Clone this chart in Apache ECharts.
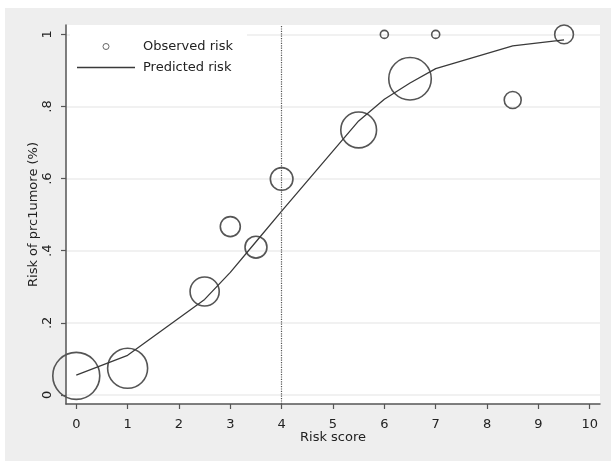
<!DOCTYPE html>
<html>
<head>
<meta charset="utf-8">
<script src="https://cdn.jsdelivr.net/npm/echarts@6/dist/echarts.min.js"></script>
<style>html,body{margin:0;padding:0;background:#fff}#c{width:611px;height:464px}</style>
</head>
<body>
<div id="c"></div>
<script>
const riskScore = [0, 1, 2.5, 3, 3.5, 4, 5.5, 6, 6.5, 7, 8.5, 9.5];
const observedRisk = [0.053, 0.074, 0.287, 0.467, 0.41, 0.599, 0.735, 1.0, 0.877, 1.0, 0.818, 1.0];
const predictedRisk = [0.055, 0.11, 0.265, 0.34, 0.425, 0.51, 0.76, 0.82, 0.865, 0.905, 0.968, 0.985];
const observedCount = [138, 100, 53, 25, 30, 32, 80, 4, 113, 4, 18, 22];
const xTicks = [0, 1, 2, 3, 4, 5, 6, 7, 8, 9, 10];
const yTicks = [0, 0.2, 0.4, 0.6, 0.8, 1];
const yTickLabels = ['0', '.2', '.4', '.6', '.8', '1'];
const cutoffScore = 4;

const FONT = 'DejaVu Sans';
const chart = echarts.init(document.getElementById('c'), null, {renderer: 'canvas'});
const obsData = riskScore.map((x, i) => [x, observedRisk[i], observedCount[i]]);
const predData = riskScore.map((x, i) => [x, predictedRisk[i]]);

chart.setOption({
  backgroundColor: '#ffffff',
  animation: false,
  graphic: [
    {type: 'rect', shape: {x: 5, y: 8, width: 606, height: 453}, style: {fill: '#eeeeee'}, z: -10, silent: true},
    {type: 'rect', shape: {x: 70, y: 28, width: 177, height: 52}, style: {fill: '#ffffff'}, z: 1, silent: true}
  ],
  grid: {left: 66, right: 11, top: 25, bottom: 60, show: true, backgroundColor: '#ffffff', borderWidth: 0},
  legend: {
    orient: 'vertical', left: 72, top: 35,
    itemWidth: 58, itemHeight: 6, itemGap: 8,
    textStyle: {fontFamily: FONT, fontSize: 13, color: '#222', padding: [0, 0, 0, 3]},
    data: [
      {name: 'Observed risk', icon: 'circle',
        itemStyle: {color: 'rgba(255,255,255,0)', borderColor: '#666', borderWidth: 1}},
      {name: 'Predicted risk', icon: 'path://M0,0L58,0L58,1.3L0,1.3Z',
        itemStyle: {color: '#3a3a3a', borderWidth: 0}}
    ],
    z: 5
  },
  xAxis: {
    type: 'value', min: -0.2, max: 10.2,
    name: 'Risk score', nameLocation: 'middle', nameGap: 27, nameMoveOverlap: false,
    nameTextStyle: {fontFamily: FONT, fontSize: 13, color: '#222'},
    axisLine: {show: true, onZero: false, lineStyle: {color: '#555', width: 1.5}},
    axisTick: {show: true, length: 5, customValues: xTicks, lineStyle: {color: '#555', width: 1.2}},
    axisLabel: {customValues: xTicks, margin: 14, fontFamily: FONT, fontSize: 13, color: '#222',
      showMinLabel: true, showMaxLabel: true},
    splitLine: {show: false}
  },
  yAxis: {
    type: 'value', min: -0.025, max: 1.026,
    name: 'Risk of prc1umore (%)', nameLocation: 'middle', nameGap: 26, nameRotate: 90, nameMoveOverlap: false,
    nameTextStyle: {fontFamily: FONT, fontSize: 13, color: '#222'},
    axisLine: {show: true, onZero: false, lineStyle: {color: '#555', width: 1.5}},
    axisTick: {show: true, length: 5, customValues: yTicks, lineStyle: {color: '#555', width: 1.2}},
    axisLabel: {customValues: yTicks, rotate: 90, margin: 12, fontFamily: FONT, fontSize: 13, color: '#222',
      formatter: v => { const i = yTicks.findIndex(t => Math.abs(t - v) < 1e-6); return i >= 0 ? yTickLabels[i] : ''; }},
    splitLine: {show: true, lineStyle: {color: '#ececec', width: 1.5}}
  },
  series: [
    {
      name: 'Observed risk', type: 'scatter', data: obsData,
      symbol: 'circle',
      symbolSize: d => 4 * Math.sqrt(d[2]),
      itemStyle: {color: 'rgba(255,255,255,0)', borderColor: '#555', borderWidth: 1.6, opacity: 1},
      z: 3,
      markLine: {
        silent: true, symbol: 'none', label: {show: false},
        lineStyle: {color: '#555', type: 'dotted', width: 1.2},
        data: [{xAxis: cutoffScore}]
      }
    },
    {
      name: 'Predicted risk', type: 'line', data: predData,
      symbol: 'none', showSymbol: false, smooth: false,
      lineStyle: {color: '#3a3a3a', width: 1.3},
      itemStyle: {color: '#3a3a3a'},
      z: 4
    }
  ]
});
</script>
</body>
</html>
